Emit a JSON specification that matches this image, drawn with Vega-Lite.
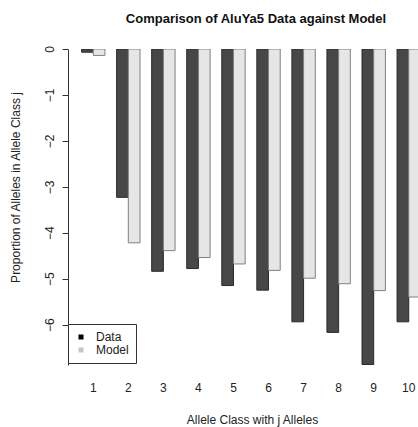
{
  "$schema": "https://vega.github.io/schema/vega-lite/v6.json",
  "autosize": {"type": "none"},
  "padding": {"left": 68, "top": 49, "right": 0, "bottom": 62},
  "width": 350,
  "height": 316,
  "background": "white",
  "config": {
    "view": {"stroke": null},
    "font": "Liberation Sans",
    "axis": {"labelFont": "Liberation Sans", "titleFont": "Liberation Sans", "labelColor": "#222", "titleColor": "#222", "titleFontWeight": "normal"}
  },
  "title": {
    "text": "Comparison of AluYa5 Data against Model",
    "font": "Liberation Sans",
    "fontSize": 13,
    "fontWeight": "bold",
    "color": "#111",
    "anchor": "middle",
    "dx": 13,
    "offset": 20
  },
  "data": {
    "values": [
      {"j": "1", "series": "Data", "value": -0.07},
      {"j": "1", "series": "Model", "value": -0.14},
      {"j": "2", "series": "Data", "value": -3.23},
      {"j": "2", "series": "Model", "value": -4.22},
      {"j": "3", "series": "Data", "value": -4.84},
      {"j": "3", "series": "Model", "value": -4.39},
      {"j": "4", "series": "Data", "value": -4.78},
      {"j": "4", "series": "Model", "value": -4.54},
      {"j": "5", "series": "Data", "value": -5.15},
      {"j": "5", "series": "Model", "value": -4.68},
      {"j": "6", "series": "Data", "value": -5.25},
      {"j": "6", "series": "Model", "value": -4.82},
      {"j": "7", "series": "Data", "value": -5.94},
      {"j": "7", "series": "Model", "value": -4.99},
      {"j": "8", "series": "Data", "value": -6.17},
      {"j": "8", "series": "Model", "value": -5.11},
      {"j": "9", "series": "Data", "value": -6.87},
      {"j": "9", "series": "Model", "value": -5.26},
      {"j": "10", "series": "Data", "value": -5.94},
      {"j": "10", "series": "Model", "value": -5.40}
    ]
  },
  "encoding": {
    "x": {
      "field": "j",
      "type": "ordinal",
      "sort": ["1","2","3","4","5","6","7","8","9","10"],
      "scale": {"range": [0, 366], "paddingInner": 0.3333, "paddingOuter": 0.387},
      "axis": {
        "title": "Allele Class with j Alleles",
        "labelAngle": 0,
        "domain": false,
        "ticks": false,
        "labelFontSize": 12,
        "labelPadding": 17,
        "titleFontSize": 12,
        "titleX": 184,
        "titleY": 58,
        "titleBaseline": "alphabetic",
        "titleAlign": "center",
        "titleAnchor": null
      }
    },
    "xOffset": {"field": "series", "type": "nominal", "scale": {"paddingInner": 0, "paddingOuter": 0}}
  },
  "layer": [
    {
      "mark": {"type": "square", "clip": true, "filled": true, "size": 20},
      "encoding": {
        "y": {"datum": 0, "type": "quantitative"},
        "color": {
          "field": "series",
          "type": "nominal",
          "scale": {"domain": ["Data", "Model"], "range": ["#000000", "#c4c4c4"]},
          "legend": {
            "title": null,
            "orient": "none",
            "legendX": 0,
            "legendY": 275,
            "strokeColor": "#333",
            "fillColor": "white",
            "padding": 7,
            "symbolType": "square",
            "symbolSize": 25,
            "symbolStrokeWidth": 0,
            "symbolOpacity": 1,
            "labelFontSize": 12,
            "labelFont": "Liberation Sans",
            "labelColor": "#222",
            "labelOffset": 9,
            "rowPadding": 1
          }
        }
      }
    },
    {
      "mark": {"type": "bar", "clip": true, "strokeWidth": 1},
      "encoding": {
        "y": {
          "field": "value",
          "type": "quantitative",
          "scale": {"domain": [-6.88, 0], "nice": false, "zero": false},
          "axis": {
            "title": "Proportion of Alleles in Allele Class j",
            "values": [0, -1, -2, -3, -4, -5, -6],
            "format": "d",
            "grid": false,
            "labelAngle": 270,
            "labelAlign": "center",
            "labelBaseline": "bottom",
            "labelPadding": 6,
            "labelFontSize": 12,
            "tickSize": 6,
            "tickColor": "#333",
            "domainColor": "#333",
            "titleFontSize": 12,
            "titleX": -53,
            "titleY": 138,
            "titleAngle": 270,
            "titleAlign": "center",
            "titleBaseline": "middle",
            "titleAnchor": null
          }
        },
        "fill": {
          "field": "series",
          "type": "nominal",
          "scale": {"domain": ["Data", "Model"], "range": ["#474747", "#e6e6e6"]},
          "legend": null
        },
        "stroke": {
          "condition": {"test": "datum.series === 'Data'", "value": "#2a2a2a"},
          "value": "#808080"
        }
      }
    }
  ]
}
